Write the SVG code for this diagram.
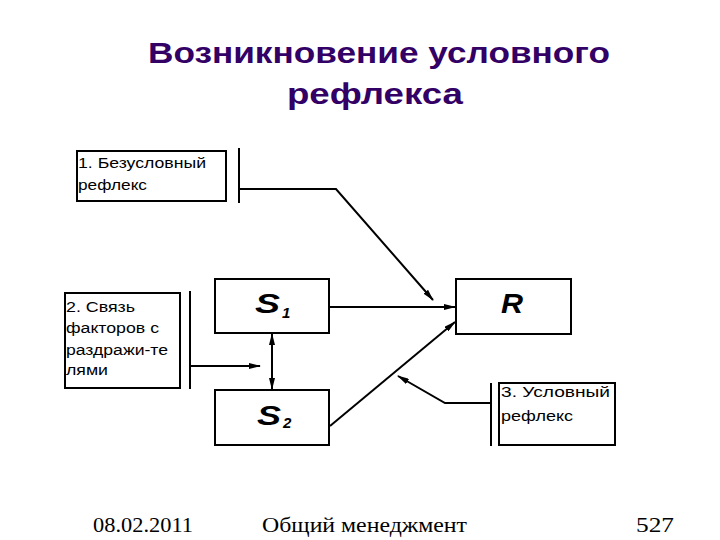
<svg xmlns="http://www.w3.org/2000/svg" width="720" height="540" viewBox="0 0 720 540">
<style>
.title{font-family:"Liberation Sans",Arial,sans-serif;font-weight:bold;font-size:29px;fill:#330066}
.lbl{font-family:"Liberation Sans",Arial,sans-serif;font-size:15.5px;fill:#000}
.box{fill:#fff;stroke:#000;stroke-width:2}
.big{font-family:"Liberation Sans",Arial,sans-serif;font-weight:bold;font-style:italic;font-size:28px;fill:#000}
.sub{font-family:"Liberation Sans",Arial,sans-serif;font-weight:bold;font-style:italic;font-size:15px;fill:#000}
.ln{stroke:#000;stroke-width:2;fill:none}
.ft{font-family:"Liberation Serif","Times New Roman",serif;font-size:22px;fill:#000}
</style>
<defs>
<marker id="ah" markerWidth="12" markerHeight="6" refX="11" refY="3" orient="auto" markerUnits="userSpaceOnUse">
<path d="M0,0 L12,3 L0,6 z" fill="#000"/>
</marker>
<marker id="ahs" markerWidth="12" markerHeight="6" refX="11" refY="3" orient="auto-start-reverse" markerUnits="userSpaceOnUse">
<path d="M0,0 L12,3 L0,6 z" fill="#000"/>
</marker>
</defs>
<text class="title" x="148" y="63" textLength="462" lengthAdjust="spacingAndGlyphs">Возникновение условного</text>
<text class="title" x="287" y="104" textLength="176" lengthAdjust="spacingAndGlyphs">рефлекса</text>

<g id="box1">
<rect class="box" x="77" y="151" width="149" height="50"/>
<text class="lbl" x="78" y="168" textLength="128" lengthAdjust="spacingAndGlyphs">1. Безусловный</text>
<text class="lbl" x="78" y="190" textLength="69" lengthAdjust="spacingAndGlyphs">рефлекс</text>
</g>
<g id="box2">
<rect class="box" x="65" y="293" width="115" height="95"/>
<text class="lbl" x="66" y="312" textLength="69" lengthAdjust="spacingAndGlyphs">2. Связь</text>
<text class="lbl" x="66" y="333" textLength="93" lengthAdjust="spacingAndGlyphs">факторов с</text>
<text class="lbl" x="66" y="355" textLength="102" lengthAdjust="spacingAndGlyphs">раздражи-те</text>
<text class="lbl" x="66" y="375" textLength="42" lengthAdjust="spacingAndGlyphs">лями</text>
</g>
<g id="box3">
<rect class="box" x="499" y="383" width="116" height="62"/>
<text class="lbl" x="501" y="397" textLength="109" lengthAdjust="spacingAndGlyphs">3. Условный</text>
<text class="lbl" x="501" y="421" textLength="72" lengthAdjust="spacingAndGlyphs">рефлекс</text>
</g>
<g id="S1">
<rect class="box" x="215" y="279" width="114" height="54"/>
<text class="big" x="255" y="313" textLength="25" lengthAdjust="spacingAndGlyphs">S</text>
<text class="sub" x="282" y="318">1</text>
</g>
<g id="S2">
<rect class="box" x="215" y="390" width="114" height="55"/>
<text class="big" x="257" y="425" textLength="24" lengthAdjust="spacingAndGlyphs">S</text>
<text class="sub" x="283" y="428">2</text>
</g>
<g id="R">
<rect class="box" x="456" y="279" width="115" height="55"/>
<text class="big" x="501" y="313" textLength="22" lengthAdjust="spacingAndGlyphs">R</text>
</g>

<g id="connectors">
<line class="ln" x1="239" y1="148" x2="239" y2="203"/>
<polyline class="ln" points="239,189 336,189 433,300" marker-end="url(#ah)"/>
<line class="ln" x1="190" y1="291" x2="190" y2="389"/>
<line class="ln" x1="190" y1="366" x2="260" y2="366" marker-end="url(#ah)"/>
<line class="ln" x1="329" y1="307" x2="455" y2="307" marker-end="url(#ah)"/>
<line class="ln" x1="272" y1="334" x2="272" y2="389" marker-start="url(#ahs)" marker-end="url(#ah)"/>
<line class="ln" x1="330" y1="426" x2="455" y2="322" marker-end="url(#ah)"/>
<line class="ln" x1="491" y1="383" x2="491" y2="446"/>
<polyline class="ln" points="491,403 445,403 398,376" marker-end="url(#ah)"/>
</g>

<text class="ft" x="93" y="532" textLength="100" lengthAdjust="spacingAndGlyphs">08.02.2011</text>
<text class="ft" x="262" y="532" textLength="205" lengthAdjust="spacingAndGlyphs">Общий менеджмент</text>
<text class="ft" x="636" y="532" textLength="38" lengthAdjust="spacingAndGlyphs">527</text>
</svg>
